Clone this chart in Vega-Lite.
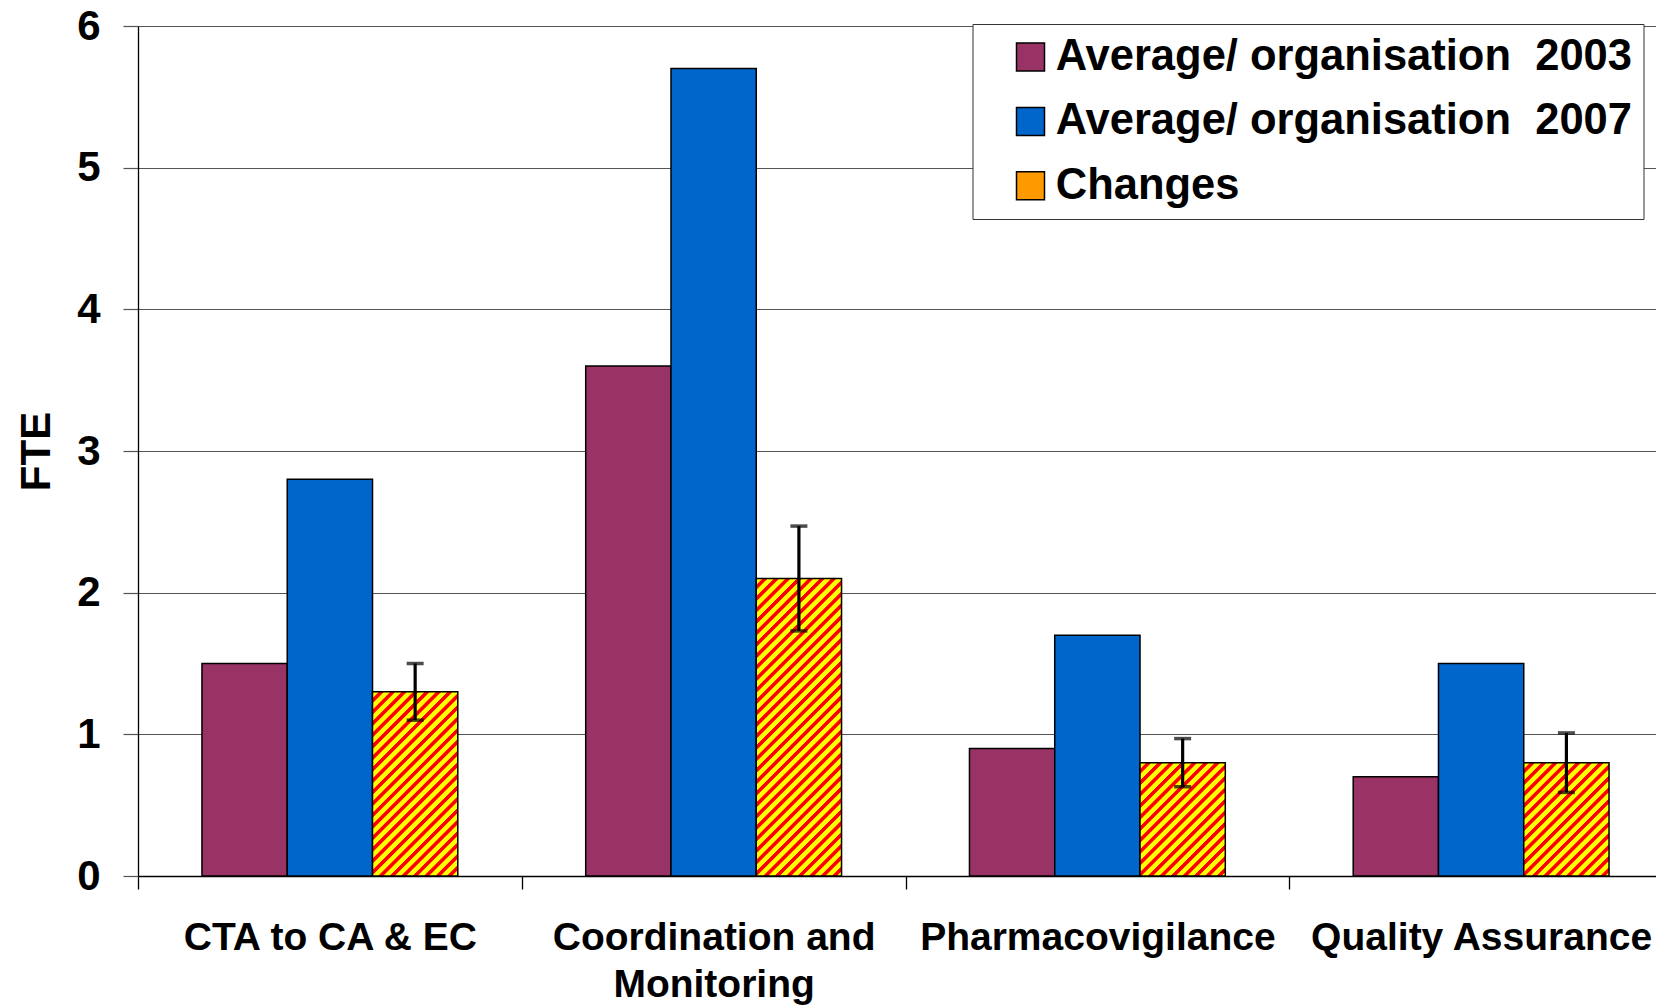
{
  "$schema": "https://vega.github.io/schema/vega-lite/v6.json",
  "width": 1518,
  "height": 850,
  "autosize": {"type": "none"},
  "padding": {"left": 138, "top": 26, "right": 0, "bottom": 132},
  "background": "white",
  "config": {"view": {"stroke": null}, "font": "Liberation Sans"},
  "data": {"values": [
    {"cat": "CTA to CA & EC", "series": "Average/ organisation\u00a0 2003", "fte": 1.5},
    {"cat": "CTA to CA & EC", "series": "Average/ organisation\u00a0 2007", "fte": 2.8},
    {"cat": "CTA to CA & EC", "series": "Changes", "fte": 1.3, "lo": 1.1, "hi": 1.5},
    {"cat": "Coordination and Monitoring", "series": "Average/ organisation\u00a0 2003", "fte": 3.6},
    {"cat": "Coordination and Monitoring", "series": "Average/ organisation\u00a0 2007", "fte": 5.7},
    {"cat": "Coordination and Monitoring", "series": "Changes", "fte": 2.1, "lo": 1.73, "hi": 2.47},
    {"cat": "Pharmacovigilance", "series": "Average/ organisation\u00a0 2003", "fte": 0.9},
    {"cat": "Pharmacovigilance", "series": "Average/ organisation\u00a0 2007", "fte": 1.7},
    {"cat": "Pharmacovigilance", "series": "Changes", "fte": 0.8, "lo": 0.63, "hi": 0.97},
    {"cat": "Quality Assurance", "series": "Average/ organisation\u00a0 2003", "fte": 0.7},
    {"cat": "Quality Assurance", "series": "Average/ organisation\u00a0 2007", "fte": 1.5},
    {"cat": "Quality Assurance", "series": "Changes", "fte": 0.8, "lo": 0.59, "hi": 1.01}
  ]},
  "encoding": {
    "x": {
      "field": "cat", "type": "nominal",
      "scale": {"domain": ["CTA to CA & EC", "Coordination and Monitoring", "Pharmacovigilance", "Quality Assurance"], "range": [0, 1535], "paddingInner": 0, "paddingOuter": 0},
      "axis": {
        "title": null, "labelAngle": 0, "labelFont": "Liberation Sans", "labelFontWeight": "bold", "labelFontSize": 39, "labelColor": "black",
        "labelPadding": 29, "labelLineHeight": 47.5, "labelLimit": 0, "labelOverlap": false,
        "labelExpr": "datum.label == 'Coordination and Monitoring' ? ['Coordination and', 'Monitoring'] : datum.label",
        "tickBand": "extent", "tickSize": 13, "tickColor": "black", "tickWidth": 1.3,
        "domainColor": "black", "domainWidth": 1.3, "grid": false
      }
    },
    "xOffset": {
      "field": "series", "type": "nominal",
      "scale": {"domain": ["Average/ organisation\u00a0 2003", "Average/ organisation\u00a0 2007", "Changes"], "paddingInner": 0, "paddingOuter": 0.75}
    }
  },
  "layer": [
    {
      "mark": {"type": "bar", "stroke": "black", "strokeWidth": 1.5},
      "encoding": {
        "y": {
          "field": "fte", "type": "quantitative",
          "scale": {"domain": [0, 6], "nice": false},
          "axis": {
            "title": "FTE", "values": [0, 1, 2, 3, 4, 5, 6], "format": "d",
            "labelFont": "Liberation Sans", "labelFontSize": 42, "labelFontWeight": "bold", "labelColor": "black", "labelPadding": 23,
            "tickSize": 15, "tickColor": "#555555", "tickWidth": 1.2,
            "domainColor": "black", "domainWidth": 1.3,
            "grid": true, "gridColor": "#555555", "gridWidth": 1.2,
            "titleFont": "Liberation Sans", "titleFontSize": 42, "titleFontWeight": "bold", "titleColor": "black", "titlePadding": 18
          }
        },
        "fill": {
          "field": "series", "type": "nominal",
          "scale": {"domain": ["Average/ organisation\u00a0 2003", "Average/ organisation\u00a0 2007", "Changes"], "range": ["#993366", "#0066cc", "#ff9900"]},
          "legend": {
            "title": null, "orient": "none", "legendX": 834.5, "legendY": -2,
            "symbolType": "square", "symbolSize": 784, "symbolStrokeWidth": 1.5,
            "labelFont": "Liberation Sans", "labelFontWeight": "bold", "labelFontSize": 43.5, "labelColor": "black",
            "labelOffset": 3.5, "labelLimit": 0, "rowPadding": 19.4, "padding": 11.25, "symbolOffset": 25,
            "strokeColor": "#333333", "fillColor": "white"
          },
          "condition": [
            {"test": "datum.series === 'Changes' && datum.cat === 'Coordination and Monitoring'", "value": {"gradient": "linear", "x1": 0, "y1": 0, "x2": 0.408, "y2": 1.4232, "stops": [
              {"offset": 0.00125, "color": "yellow"}, {"offset": 0.013, "color": "yellow"}, {"offset": 0.015, "color": "red"}, {"offset": 0.02375, "color": "red"},
              {"offset": 0.02625, "color": "yellow"}, {"offset": 0.038, "color": "yellow"}, {"offset": 0.04, "color": "red"}, {"offset": 0.04875, "color": "red"},
              {"offset": 0.05125, "color": "yellow"}, {"offset": 0.063, "color": "yellow"}, {"offset": 0.065, "color": "red"}, {"offset": 0.07375, "color": "red"},
              {"offset": 0.07625, "color": "yellow"}, {"offset": 0.088, "color": "yellow"}, {"offset": 0.09, "color": "red"}, {"offset": 0.09875, "color": "red"},
              {"offset": 0.10125, "color": "yellow"}, {"offset": 0.113, "color": "yellow"}, {"offset": 0.115, "color": "red"}, {"offset": 0.12375, "color": "red"},
              {"offset": 0.12625, "color": "yellow"}, {"offset": 0.138, "color": "yellow"}, {"offset": 0.14, "color": "red"}, {"offset": 0.14875, "color": "red"},
              {"offset": 0.15125, "color": "yellow"}, {"offset": 0.163, "color": "yellow"}, {"offset": 0.165, "color": "red"}, {"offset": 0.17375, "color": "red"},
              {"offset": 0.17625, "color": "yellow"}, {"offset": 0.188, "color": "yellow"}, {"offset": 0.19, "color": "red"}, {"offset": 0.19875, "color": "red"},
              {"offset": 0.20125, "color": "yellow"}, {"offset": 0.213, "color": "yellow"}, {"offset": 0.215, "color": "red"}, {"offset": 0.22375, "color": "red"},
              {"offset": 0.22625, "color": "yellow"}, {"offset": 0.238, "color": "yellow"}, {"offset": 0.24, "color": "red"}, {"offset": 0.24875, "color": "red"},
              {"offset": 0.25125, "color": "yellow"}, {"offset": 0.263, "color": "yellow"}, {"offset": 0.265, "color": "red"}, {"offset": 0.27375, "color": "red"},
              {"offset": 0.27625, "color": "yellow"}, {"offset": 0.288, "color": "yellow"}, {"offset": 0.29, "color": "red"}, {"offset": 0.29875, "color": "red"},
              {"offset": 0.30125, "color": "yellow"}, {"offset": 0.313, "color": "yellow"}, {"offset": 0.315, "color": "red"}, {"offset": 0.32375, "color": "red"},
              {"offset": 0.32625, "color": "yellow"}, {"offset": 0.338, "color": "yellow"}, {"offset": 0.34, "color": "red"}, {"offset": 0.34875, "color": "red"},
              {"offset": 0.35125, "color": "yellow"}, {"offset": 0.363, "color": "yellow"}, {"offset": 0.365, "color": "red"}, {"offset": 0.37375, "color": "red"},
              {"offset": 0.37625, "color": "yellow"}, {"offset": 0.388, "color": "yellow"}, {"offset": 0.39, "color": "red"}, {"offset": 0.39875, "color": "red"},
              {"offset": 0.40125, "color": "yellow"}, {"offset": 0.413, "color": "yellow"}, {"offset": 0.415, "color": "red"}, {"offset": 0.42375, "color": "red"},
              {"offset": 0.42625, "color": "yellow"}, {"offset": 0.438, "color": "yellow"}, {"offset": 0.44, "color": "red"}, {"offset": 0.44875, "color": "red"},
              {"offset": 0.45125, "color": "yellow"}, {"offset": 0.463, "color": "yellow"}, {"offset": 0.465, "color": "red"}, {"offset": 0.47375, "color": "red"},
              {"offset": 0.47625, "color": "yellow"}, {"offset": 0.488, "color": "yellow"}, {"offset": 0.49, "color": "red"}, {"offset": 0.49875, "color": "red"},
              {"offset": 0.50125, "color": "yellow"}, {"offset": 0.513, "color": "yellow"}, {"offset": 0.515, "color": "red"}, {"offset": 0.52375, "color": "red"},
              {"offset": 0.52625, "color": "yellow"}, {"offset": 0.538, "color": "yellow"}, {"offset": 0.54, "color": "red"}, {"offset": 0.54875, "color": "red"},
              {"offset": 0.55125, "color": "yellow"}, {"offset": 0.563, "color": "yellow"}, {"offset": 0.565, "color": "red"}, {"offset": 0.57375, "color": "red"},
              {"offset": 0.57625, "color": "yellow"}, {"offset": 0.588, "color": "yellow"}, {"offset": 0.59, "color": "red"}, {"offset": 0.59875, "color": "red"},
              {"offset": 0.60125, "color": "yellow"}, {"offset": 0.613, "color": "yellow"}, {"offset": 0.615, "color": "red"}, {"offset": 0.62375, "color": "red"},
              {"offset": 0.62625, "color": "yellow"}, {"offset": 0.638, "color": "yellow"}, {"offset": 0.64, "color": "red"}, {"offset": 0.64875, "color": "red"},
              {"offset": 0.65125, "color": "yellow"}, {"offset": 0.663, "color": "yellow"}, {"offset": 0.665, "color": "red"}, {"offset": 0.67375, "color": "red"},
              {"offset": 0.67625, "color": "yellow"}, {"offset": 0.688, "color": "yellow"}, {"offset": 0.69, "color": "red"}, {"offset": 0.69875, "color": "red"},
              {"offset": 0.70125, "color": "yellow"}, {"offset": 0.713, "color": "yellow"}, {"offset": 0.715, "color": "red"}, {"offset": 0.72375, "color": "red"},
              {"offset": 0.72625, "color": "yellow"}, {"offset": 0.738, "color": "yellow"}, {"offset": 0.74, "color": "red"}, {"offset": 0.74875, "color": "red"},
              {"offset": 0.75125, "color": "yellow"}, {"offset": 0.763, "color": "yellow"}, {"offset": 0.765, "color": "red"}, {"offset": 0.77375, "color": "red"},
              {"offset": 0.77625, "color": "yellow"}, {"offset": 0.788, "color": "yellow"}, {"offset": 0.79, "color": "red"}, {"offset": 0.79875, "color": "red"},
              {"offset": 0.80125, "color": "yellow"}, {"offset": 0.813, "color": "yellow"}, {"offset": 0.815, "color": "red"}, {"offset": 0.82375, "color": "red"},
              {"offset": 0.82625, "color": "yellow"}, {"offset": 0.838, "color": "yellow"}, {"offset": 0.84, "color": "red"}, {"offset": 0.84875, "color": "red"},
              {"offset": 0.85125, "color": "yellow"}, {"offset": 0.863, "color": "yellow"}, {"offset": 0.865, "color": "red"}, {"offset": 0.87375, "color": "red"},
              {"offset": 0.87625, "color": "yellow"}, {"offset": 0.888, "color": "yellow"}, {"offset": 0.89, "color": "red"}, {"offset": 0.89875, "color": "red"},
              {"offset": 0.90125, "color": "yellow"}, {"offset": 0.913, "color": "yellow"}, {"offset": 0.915, "color": "red"}, {"offset": 0.92375, "color": "red"},
              {"offset": 0.92625, "color": "yellow"}, {"offset": 0.938, "color": "yellow"}, {"offset": 0.94, "color": "red"}, {"offset": 0.94875, "color": "red"},
              {"offset": 0.95125, "color": "yellow"}, {"offset": 0.963, "color": "yellow"}, {"offset": 0.965, "color": "red"}, {"offset": 0.97375, "color": "red"},
              {"offset": 0.97625, "color": "yellow"}, {"offset": 0.988, "color": "yellow"}, {"offset": 0.99, "color": "red"}, {"offset": 0.99875, "color": "red"}
            ]}},
            {"test": "datum.series === 'Changes' && datum.cat === 'CTA to CA & EC'", "value": {"gradient": "linear", "x1": 0, "y1": 0, "x2": 0.5929, "y2": 1.2804, "stops": [
              {"offset": 0.002, "color": "yellow"}, {"offset": 0.0208, "color": "yellow"}, {"offset": 0.024, "color": "red"}, {"offset": 0.038, "color": "red"},
              {"offset": 0.042, "color": "yellow"}, {"offset": 0.0608, "color": "yellow"}, {"offset": 0.064, "color": "red"}, {"offset": 0.078, "color": "red"},
              {"offset": 0.082, "color": "yellow"}, {"offset": 0.1008, "color": "yellow"}, {"offset": 0.104, "color": "red"}, {"offset": 0.118, "color": "red"},
              {"offset": 0.122, "color": "yellow"}, {"offset": 0.1408, "color": "yellow"}, {"offset": 0.144, "color": "red"}, {"offset": 0.158, "color": "red"},
              {"offset": 0.162, "color": "yellow"}, {"offset": 0.1808, "color": "yellow"}, {"offset": 0.184, "color": "red"}, {"offset": 0.198, "color": "red"},
              {"offset": 0.202, "color": "yellow"}, {"offset": 0.2208, "color": "yellow"}, {"offset": 0.224, "color": "red"}, {"offset": 0.238, "color": "red"},
              {"offset": 0.242, "color": "yellow"}, {"offset": 0.2608, "color": "yellow"}, {"offset": 0.264, "color": "red"}, {"offset": 0.278, "color": "red"},
              {"offset": 0.282, "color": "yellow"}, {"offset": 0.3008, "color": "yellow"}, {"offset": 0.304, "color": "red"}, {"offset": 0.318, "color": "red"},
              {"offset": 0.322, "color": "yellow"}, {"offset": 0.3408, "color": "yellow"}, {"offset": 0.344, "color": "red"}, {"offset": 0.358, "color": "red"},
              {"offset": 0.362, "color": "yellow"}, {"offset": 0.3808, "color": "yellow"}, {"offset": 0.384, "color": "red"}, {"offset": 0.398, "color": "red"},
              {"offset": 0.402, "color": "yellow"}, {"offset": 0.4208, "color": "yellow"}, {"offset": 0.424, "color": "red"}, {"offset": 0.438, "color": "red"},
              {"offset": 0.442, "color": "yellow"}, {"offset": 0.4608, "color": "yellow"}, {"offset": 0.464, "color": "red"}, {"offset": 0.478, "color": "red"},
              {"offset": 0.482, "color": "yellow"}, {"offset": 0.5008, "color": "yellow"}, {"offset": 0.504, "color": "red"}, {"offset": 0.518, "color": "red"},
              {"offset": 0.522, "color": "yellow"}, {"offset": 0.5408, "color": "yellow"}, {"offset": 0.544, "color": "red"}, {"offset": 0.558, "color": "red"},
              {"offset": 0.562, "color": "yellow"}, {"offset": 0.5808, "color": "yellow"}, {"offset": 0.584, "color": "red"}, {"offset": 0.598, "color": "red"},
              {"offset": 0.602, "color": "yellow"}, {"offset": 0.6208, "color": "yellow"}, {"offset": 0.624, "color": "red"}, {"offset": 0.638, "color": "red"},
              {"offset": 0.642, "color": "yellow"}, {"offset": 0.6608, "color": "yellow"}, {"offset": 0.664, "color": "red"}, {"offset": 0.678, "color": "red"},
              {"offset": 0.682, "color": "yellow"}, {"offset": 0.7008, "color": "yellow"}, {"offset": 0.704, "color": "red"}, {"offset": 0.718, "color": "red"},
              {"offset": 0.722, "color": "yellow"}, {"offset": 0.7408, "color": "yellow"}, {"offset": 0.744, "color": "red"}, {"offset": 0.758, "color": "red"},
              {"offset": 0.762, "color": "yellow"}, {"offset": 0.7808, "color": "yellow"}, {"offset": 0.784, "color": "red"}, {"offset": 0.798, "color": "red"},
              {"offset": 0.802, "color": "yellow"}, {"offset": 0.8208, "color": "yellow"}, {"offset": 0.824, "color": "red"}, {"offset": 0.838, "color": "red"},
              {"offset": 0.842, "color": "yellow"}, {"offset": 0.8608, "color": "yellow"}, {"offset": 0.864, "color": "red"}, {"offset": 0.878, "color": "red"},
              {"offset": 0.882, "color": "yellow"}, {"offset": 0.9008, "color": "yellow"}, {"offset": 0.904, "color": "red"}, {"offset": 0.918, "color": "red"},
              {"offset": 0.922, "color": "yellow"}, {"offset": 0.9408, "color": "yellow"}, {"offset": 0.944, "color": "red"}, {"offset": 0.958, "color": "red"},
              {"offset": 0.962, "color": "yellow"}, {"offset": 0.9808, "color": "yellow"}, {"offset": 0.984, "color": "red"}, {"offset": 0.998, "color": "red"}
            ]}},
            {"test": "datum.series === 'Changes'", "value": {"gradient": "linear", "x1": 0, "y1": 0, "x2": 0.9712, "y2": 1.2907, "stops": [
              {"offset": 0.0025, "color": "yellow"}, {"offset": 0.026, "color": "yellow"}, {"offset": 0.03, "color": "red"}, {"offset": 0.0475, "color": "red"},
              {"offset": 0.0525, "color": "yellow"}, {"offset": 0.076, "color": "yellow"}, {"offset": 0.08, "color": "red"}, {"offset": 0.0975, "color": "red"},
              {"offset": 0.1025, "color": "yellow"}, {"offset": 0.126, "color": "yellow"}, {"offset": 0.13, "color": "red"}, {"offset": 0.1475, "color": "red"},
              {"offset": 0.1525, "color": "yellow"}, {"offset": 0.176, "color": "yellow"}, {"offset": 0.18, "color": "red"}, {"offset": 0.1975, "color": "red"},
              {"offset": 0.2025, "color": "yellow"}, {"offset": 0.226, "color": "yellow"}, {"offset": 0.23, "color": "red"}, {"offset": 0.2475, "color": "red"},
              {"offset": 0.2525, "color": "yellow"}, {"offset": 0.276, "color": "yellow"}, {"offset": 0.28, "color": "red"}, {"offset": 0.2975, "color": "red"},
              {"offset": 0.3025, "color": "yellow"}, {"offset": 0.326, "color": "yellow"}, {"offset": 0.33, "color": "red"}, {"offset": 0.3475, "color": "red"},
              {"offset": 0.3525, "color": "yellow"}, {"offset": 0.376, "color": "yellow"}, {"offset": 0.38, "color": "red"}, {"offset": 0.3975, "color": "red"},
              {"offset": 0.4025, "color": "yellow"}, {"offset": 0.426, "color": "yellow"}, {"offset": 0.43, "color": "red"}, {"offset": 0.4475, "color": "red"},
              {"offset": 0.4525, "color": "yellow"}, {"offset": 0.476, "color": "yellow"}, {"offset": 0.48, "color": "red"}, {"offset": 0.4975, "color": "red"},
              {"offset": 0.5025, "color": "yellow"}, {"offset": 0.526, "color": "yellow"}, {"offset": 0.53, "color": "red"}, {"offset": 0.5475, "color": "red"},
              {"offset": 0.5525, "color": "yellow"}, {"offset": 0.576, "color": "yellow"}, {"offset": 0.58, "color": "red"}, {"offset": 0.5975, "color": "red"},
              {"offset": 0.6025, "color": "yellow"}, {"offset": 0.626, "color": "yellow"}, {"offset": 0.63, "color": "red"}, {"offset": 0.6475, "color": "red"},
              {"offset": 0.6525, "color": "yellow"}, {"offset": 0.676, "color": "yellow"}, {"offset": 0.68, "color": "red"}, {"offset": 0.6975, "color": "red"},
              {"offset": 0.7025, "color": "yellow"}, {"offset": 0.726, "color": "yellow"}, {"offset": 0.73, "color": "red"}, {"offset": 0.7475, "color": "red"},
              {"offset": 0.7525, "color": "yellow"}, {"offset": 0.776, "color": "yellow"}, {"offset": 0.78, "color": "red"}, {"offset": 0.7975, "color": "red"},
              {"offset": 0.8025, "color": "yellow"}, {"offset": 0.826, "color": "yellow"}, {"offset": 0.83, "color": "red"}, {"offset": 0.8475, "color": "red"},
              {"offset": 0.8525, "color": "yellow"}, {"offset": 0.876, "color": "yellow"}, {"offset": 0.88, "color": "red"}, {"offset": 0.8975, "color": "red"},
              {"offset": 0.9025, "color": "yellow"}, {"offset": 0.926, "color": "yellow"}, {"offset": 0.93, "color": "red"}, {"offset": 0.9475, "color": "red"},
              {"offset": 0.9525, "color": "yellow"}, {"offset": 0.976, "color": "yellow"}, {"offset": 0.98, "color": "red"}, {"offset": 0.9975, "color": "red"}
            ]}}
          ]
        }
      }
    },
    {
      "transform": [{"filter": "datum.series === 'Changes'"}],
      "mark": {"type": "rule", "strokeWidth": 3.2, "color": "black"},
      "encoding": {
        "y": {"field": "lo", "type": "quantitative"},
        "y2": {"field": "hi"}
      }
    },
    {
      "transform": [{"filter": "datum.series === 'Changes'"}],
      "mark": {"type": "tick", "orient": "horizontal", "size": 17, "thickness": 3.5, "color": "black"},
      "encoding": {"y": {"field": "lo", "type": "quantitative"}}
    },
    {
      "transform": [{"filter": "datum.series === 'Changes'"}],
      "mark": {"type": "tick", "orient": "horizontal", "size": 17, "thickness": 3.5, "color": "black"},
      "encoding": {"y": {"field": "hi", "type": "quantitative"}}
    }
  ]
}
